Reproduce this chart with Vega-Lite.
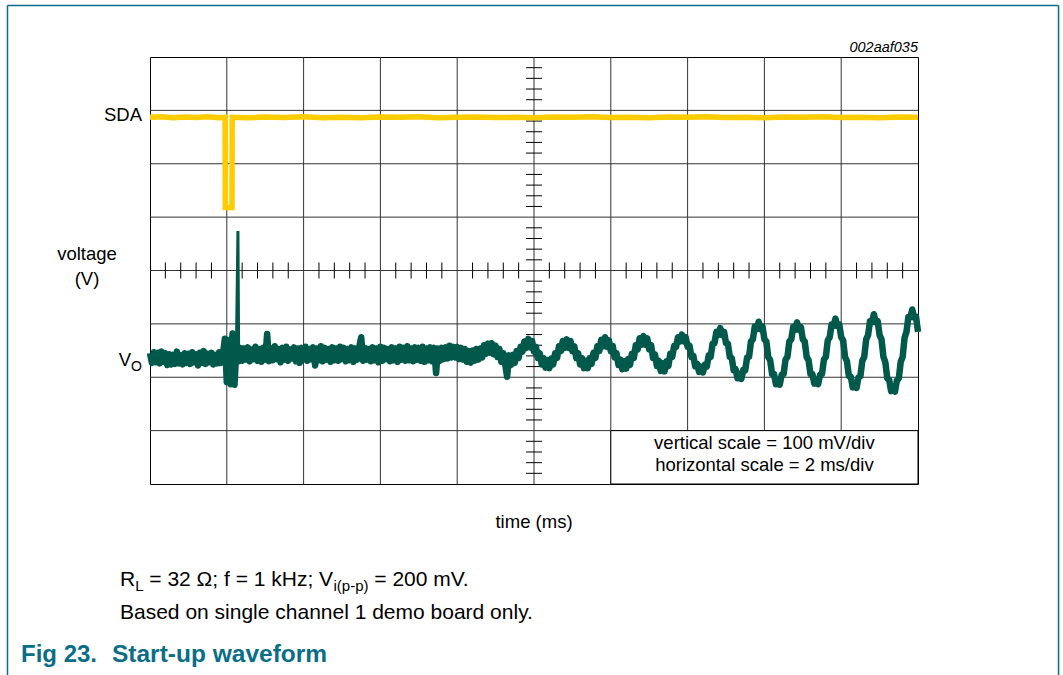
{
  "$schema": "https://vega.github.io/schema/vega-lite/v6.json",
  "width": 768,
  "height": 427,
  "autosize": {"type": "none"},
  "padding": {"left": 150, "top": 57, "right": 145, "bottom": 191},
  "background": "white",
  "config": {
    "view": {"stroke": "#000", "strokeWidth": 1},
    "text": {"font": "Liberation Sans, Arial, Helvetica, sans-serif"}
  },
  "datasets": {
    "gx": [{"t": 2}, {"t": 4}, {"t": 6}, {"t": 8}, {"t": 10}, {"t": 12}, {"t": 14}, {"t": 16}, {"t": 18}],
    "gy": [{"d": 1}, {"d": 2}, {"d": 3}, {"d": 4}, {"d": 5}, {"d": 6}, {"d": 7}],
    "hticks": [{"t":0.4},{"t":0.8},{"t":1.2},{"t":1.6},{"t":2.4},{"t":2.8},{"t":3.2},{"t":3.6},{"t":4.4},{"t":4.8},{"t":5.2},{"t":5.6},{"t":6.4},{"t":6.8},{"t":7.2},{"t":7.6},{"t":8.4},{"t":8.8},{"t":9.2},{"t":9.6},{"t":10.4},{"t":10.8},{"t":11.2},{"t":11.6},{"t":12.4},{"t":12.8},{"t":13.2},{"t":13.6},{"t":14.4},{"t":14.8},{"t":15.2},{"t":15.6},{"t":16.4},{"t":16.8},{"t":17.2},{"t":17.6},{"t":18.4},{"t":18.8},{"t":19.2},{"t":19.6}],
    "vticks": [{"d":0.2},{"d":0.4},{"d":0.6},{"d":0.8},{"d":1.2},{"d":1.4},{"d":1.6},{"d":1.8},{"d":2.2},{"d":2.4},{"d":2.6},{"d":2.8},{"d":3.2},{"d":3.4},{"d":3.6},{"d":3.8},{"d":4.2},{"d":4.4},{"d":4.6},{"d":4.8},{"d":5.2},{"d":5.4},{"d":5.6},{"d":5.8},{"d":6.2},{"d":6.4},{"d":6.6},{"d":6.8},{"d":7.2},{"d":7.4},{"d":7.6},{"d":7.8}],
    "sda": [
      {"t":0,"v":6.87},{"t":0.3,"v":6.88},{"t":0.6,"v":6.86},{"t":0.9,"v":6.875},{"t":1.2,"v":6.865},{"t":1.5,"v":6.88},{"t":1.8,"v":6.86},{"t":1.955,"v":6.87},{"t":1.96,"v":5.18},{"t":2.135,"v":5.18},{"t":2.14,"v":6.87},{"t":2.5,"v":6.86},{"t":3,"v":6.875},{"t":3.5,"v":6.865},{"t":4,"v":6.88},{"t":4.5,"v":6.86},{"t":5,"v":6.87},{"t":5.5,"v":6.86},{"t":6,"v":6.875},{"t":6.5,"v":6.87},{"t":7,"v":6.88},{"t":7.5,"v":6.86},{"t":8,"v":6.87},{"t":8.5,"v":6.875},{"t":9,"v":6.865},{"t":9.5,"v":6.87},{"t":10,"v":6.86},{"t":10.5,"v":6.875},{"t":11,"v":6.87},{"t":11.5,"v":6.88},{"t":12,"v":6.865},{"t":12.5,"v":6.87},{"t":13,"v":6.86},{"t":13.5,"v":6.875},{"t":14,"v":6.87},{"t":14.5,"v":6.88},{"t":15,"v":6.865},{"t":15.5,"v":6.87},{"t":16,"v":6.86},{"t":16.5,"v":6.875},{"t":17,"v":6.87},{"t":17.5,"v":6.88},{"t":18,"v":6.865},{"t":18.5,"v":6.87},{"t":19,"v":6.86},{"t":19.5,"v":6.875},{"t":20,"v":6.87}
    ],
    "vo": [
      {"t":0,"v":2.45},{"t":0.05,"v":2.27},{"t":0.1,"v":2.47},{"t":0.15,"v":2.28},{"t":0.2,"v":2.46},{"t":0.25,"v":2.26},{"t":0.3,"v":2.48},{"t":0.35,"v":2.29},{"t":0.4,"v":2.45},{"t":0.45,"v":2.23},{"t":0.5,"v":2.43},{"t":0.55,"v":2.24},{"t":0.6,"v":2.42},{"t":0.65,"v":2.25},{"t":0.7,"v":2.48},{"t":0.75,"v":2.26},{"t":0.8,"v":2.41},{"t":0.85,"v":2.24},{"t":0.9,"v":2.45},{"t":0.95,"v":2.27},
      {"t":1,"v":2.44},{"t":1.05,"v":2.25},{"t":1.1,"v":2.47},{"t":1.15,"v":2.28},{"t":1.2,"v":2.43},{"t":1.25,"v":2.22},{"t":1.3,"v":2.46},{"t":1.35,"v":2.27},{"t":1.4,"v":2.49},{"t":1.45,"v":2.25},{"t":1.5,"v":2.44},{"t":1.55,"v":2.28},{"t":1.6,"v":2.46},{"t":1.65,"v":2.24},{"t":1.7,"v":2.42},{"t":1.75,"v":2.26},{"t":1.8,"v":2.47},{"t":1.85,"v":2.27},{"t":1.9,"v":2.44},{"t":1.95,"v":2.72},
      {"t":2,"v":1.91},{"t":2.05,"v":2.7},{"t":2.1,"v":1.87},{"t":2.15,"v":2.82},{"t":2.2,"v":1.86},{"t":2.25,"v":2.55},{"t":2.29,"v":4.74},{"t":2.31,"v":2.3},{"t":2.35,"v":2.55},{"t":2.4,"v":2.31},{"t":2.45,"v":2.54},{"t":2.5,"v":2.33},{"t":2.55,"v":2.56},{"t":2.6,"v":2.3},{"t":2.65,"v":2.52},{"t":2.7,"v":2.34},{"t":2.75,"v":2.57},{"t":2.8,"v":2.31},{"t":2.85,"v":2.53},{"t":2.9,"v":2.29},{"t":2.95,"v":2.55},
      {"t":3,"v":2.33},{"t":3.05,"v":2.81},{"t":3.1,"v":2.3},{"t":3.15,"v":2.54},{"t":3.2,"v":2.32},{"t":3.25,"v":2.58},{"t":3.3,"v":2.34},{"t":3.35,"v":2.53},{"t":3.4,"v":2.28},{"t":3.45,"v":2.55},{"t":3.5,"v":2.33},{"t":3.55,"v":2.57},{"t":3.6,"v":2.31},{"t":3.65,"v":2.52},{"t":3.7,"v":2.35},{"t":3.75,"v":2.56},{"t":3.8,"v":2.3},{"t":3.85,"v":2.54},{"t":3.9,"v":2.27},{"t":3.95,"v":2.55},
      {"t":4,"v":2.33},{"t":4.05,"v":2.57},{"t":4.1,"v":2.31},{"t":4.15,"v":2.53},{"t":4.2,"v":2.34},{"t":4.25,"v":2.56},{"t":4.3,"v":2.22},{"t":4.35,"v":2.54},{"t":4.4,"v":2.32},{"t":4.45,"v":2.58},{"t":4.5,"v":2.3},{"t":4.55,"v":2.55},{"t":4.6,"v":2.33},{"t":4.65,"v":2.53},{"t":4.7,"v":2.29},{"t":4.75,"v":2.56},{"t":4.8,"v":2.32},{"t":4.85,"v":2.54},{"t":4.9,"v":2.31},{"t":4.95,"v":2.57},
      {"t":5,"v":2.34},{"t":5.05,"v":2.55},{"t":5.1,"v":2.3},{"t":5.15,"v":2.53},{"t":5.2,"v":2.32},{"t":5.25,"v":2.56},{"t":5.3,"v":2.29},{"t":5.35,"v":2.54},{"t":5.4,"v":2.33},{"t":5.45,"v":2.57},{"t":5.5,"v":2.75},{"t":5.55,"v":2.31},{"t":5.6,"v":2.55},{"t":5.65,"v":2.33},{"t":5.7,"v":2.53},{"t":5.75,"v":2.3},{"t":5.8,"v":2.56},{"t":5.85,"v":2.32},{"t":5.9,"v":2.54},{"t":5.95,"v":2.28},
      {"t":6,"v":2.57},{"t":6.05,"v":2.31},{"t":6.1,"v":2.55},{"t":6.15,"v":2.34},{"t":6.2,"v":2.53},{"t":6.25,"v":2.3},{"t":6.3,"v":2.56},{"t":6.35,"v":2.32},{"t":6.4,"v":2.54},{"t":6.45,"v":2.29},{"t":6.5,"v":2.57},{"t":6.55,"v":2.33},{"t":6.6,"v":2.55},{"t":6.65,"v":2.31},{"t":6.7,"v":2.58},{"t":6.75,"v":2.32},{"t":6.8,"v":2.54},{"t":6.85,"v":2.3},{"t":6.9,"v":2.56},{"t":6.95,"v":2.33},
      {"t":7,"v":2.55},{"t":7.05,"v":2.31},{"t":7.1,"v":2.57},{"t":7.15,"v":2.29},{"t":7.2,"v":2.54},{"t":7.25,"v":2.32},{"t":7.3,"v":2.56},{"t":7.35,"v":2.3},{"t":7.4,"v":2.55},{"t":7.45,"v":2.08},{"t":7.5,"v":2.54},{"t":7.55,"v":2.31},{"t":7.6,"v":2.55},{"t":7.65,"v":2.34},{"t":7.7,"v":2.56},{"t":7.75,"v":2.35},{"t":7.8,"v":2.59},{"t":7.85,"v":2.37},{"t":7.9,"v":2.57},{"t":7.95,"v":2.37},
      {"t":8,"v":2.57},{"t":8.05,"v":2.34},{"t":8.1,"v":2.55},{"t":8.15,"v":2.33},{"t":8.2,"v":2.53},{"t":8.25,"v":2.29},{"t":8.3,"v":2.49},{"t":8.35,"v":2.27},{"t":8.4,"v":2.5},{"t":8.45,"v":2.31},{"t":8.5,"v":2.53},{"t":8.55,"v":2.33},{"t":8.6,"v":2.54},{"t":8.65,"v":2.37},{"t":8.7,"v":2.6},{"t":8.75,"v":2.44},{"t":8.8,"v":2.63},{"t":8.85,"v":2.46},{"t":8.9,"v":2.64},{"t":8.95,"v":2.43},
      {"t":9,"v":2.59},{"t":9.05,"v":2.38},{"t":9.1,"v":2.53},{"t":9.15,"v":2.29},{"t":9.2,"v":2.45},{"t":9.25,"v":2.24},{"t":9.3,"v":2.01},{"t":9.35,"v":2.41},{"t":9.4,"v":2.23},{"t":9.45,"v":2.42},{"t":9.5,"v":2.27},{"t":9.55,"v":2.49},{"t":9.6,"v":2.36},{"t":9.65,"v":2.57},{"t":9.7,"v":2.48},{"t":9.75,"v":2.67},{"t":9.8,"v":2.55},{"t":9.85,"v":2.72},{"t":9.9,"v":2.56},{"t":9.95,"v":2.68},
      {"t":10,"v":2.48},{"t":10.05,"v":2.57},{"t":10.1,"v":2.36},{"t":10.15,"v":2.45},{"t":10.2,"v":2.24},{"t":10.25,"v":2.36},{"t":10.3,"v":2.18},{"t":10.35,"v":2.32},{"t":10.4,"v":2.17},{"t":10.45,"v":2.35},{"t":10.5,"v":2.24},{"t":10.55,"v":2.45},{"t":10.6,"v":2.36},{"t":10.65,"v":2.58},{"t":10.7,"v":2.49},{"t":10.75,"v":2.68},{"t":10.8,"v":2.55},{"t":10.85,"v":2.71},{"t":10.9,"v":2.55},{"t":10.95,"v":2.68},
      {"t":11,"v":2.49},{"t":11.05,"v":2.58},{"t":11.1,"v":2.36},{"t":11.15,"v":2.45},{"t":11.2,"v":2.24},{"t":11.25,"v":2.36},{"t":11.3,"v":2.17},{"t":11.35,"v":2.31},{"t":11.4,"v":2.17},{"t":11.45,"v":2.36},{"t":11.5,"v":2.25},{"t":11.55,"v":2.46},{"t":11.6,"v":2.36},{"t":11.65,"v":2.58},{"t":11.7,"v":2.49},{"t":11.75,"v":2.7},{"t":11.8,"v":2.58},{"t":11.85,"v":2.75},{"t":11.9,"v":2.57},{"t":11.95,"v":2.69},
      {"t":12,"v":2.49},{"t":12.05,"v":2.59},{"t":12.1,"v":2.37},{"t":12.15,"v":2.45},{"t":12.2,"v":2.23},{"t":12.25,"v":2.33},{"t":12.3,"v":2.15},{"t":12.35,"v":2.3},{"t":12.4,"v":2.16},{"t":12.45,"v":2.34},{"t":12.5,"v":2.23},{"t":12.55,"v":2.44},{"t":12.6,"v":2.36},{"t":12.65,"v":2.6},{"t":12.7,"v":2.52},{"t":12.75,"v":2.73},{"t":12.8,"v":2.61},{"t":12.85,"v":2.77},{"t":12.9,"v":2.61},{"t":12.95,"v":2.73},
      {"t":13,"v":2.52},{"t":13.05,"v":2.6},{"t":13.1,"v":2.36},{"t":13.15,"v":2.43},{"t":13.2,"v":2.21},{"t":13.25,"v":2.31},{"t":13.3,"v":2.12},{"t":13.35,"v":2.26},{"t":13.4,"v":2.11},{"t":13.45,"v":2.3},{"t":13.5,"v":2.21},{"t":13.55,"v":2.44},{"t":13.6,"v":2.38},{"t":13.65,"v":2.59},{"t":13.7,"v":2.57},{"t":13.75,"v":2.75},{"t":13.8,"v":2.67},{"t":13.85,"v":2.8},{"t":13.9,"v":2.67},{"t":13.95,"v":2.75},
      {"t":14,"v":2.57},{"t":14.05,"v":2.59},{"t":14.1,"v":2.38},{"t":14.15,"v":2.4},{"t":14.2,"v":2.2},{"t":14.25,"v":2.25},{"t":14.3,"v":2.1},{"t":14.35,"v":2.2},{"t":14.4,"v":2.09},{"t":14.45,"v":2.24},{"t":14.5,"v":2.2},{"t":14.55,"v":2.41},{"t":14.6,"v":2.38},{"t":14.65,"v":2.63},{"t":14.7,"v":2.64},{"t":14.75,"v":2.85},{"t":14.8,"v":2.79},{"t":14.85,"v":2.92},{"t":14.9,"v":2.79},{"t":14.95,"v":2.85},
      {"t":15,"v":2.64},{"t":15.05,"v":2.63},{"t":15.1,"v":2.38},{"t":15.15,"v":2.36},{"t":15.2,"v":2.13},{"t":15.25,"v":2.15},{"t":15.3,"v":1.98},{"t":15.35,"v":2.07},{"t":15.4,"v":1.97},{"t":15.45,"v":2.14},{"t":15.5,"v":2.13},{"t":15.55,"v":2.37},{"t":15.6,"v":2.38},{"t":15.65,"v":2.67},{"t":15.7,"v":2.71},{"t":15.75,"v":2.95},{"t":15.8,"v":2.9},{"t":15.85,"v":3.04},{"t":15.9,"v":2.9},{"t":15.95,"v":2.95},
      {"t":16,"v":2.71},{"t":16.05,"v":2.67},{"t":16.1,"v":2.38},{"t":16.15,"v":2.32},{"t":16.2,"v":2.06},{"t":16.25,"v":2.06},{"t":16.3,"v":1.87},{"t":16.35,"v":1.95},{"t":16.4,"v":1.86},{"t":16.45,"v":2.05},{"t":16.5,"v":2.06},{"t":16.55,"v":2.33},{"t":16.6,"v":2.38},{"t":16.65,"v":2.67},{"t":16.7,"v":2.71},{"t":16.75,"v":2.94},{"t":16.8,"v":2.89},{"t":16.85,"v":3.03},{"t":16.9,"v":2.89},{"t":16.95,"v":2.94},
      {"t":17,"v":2.71},{"t":17.05,"v":2.67},{"t":17.1,"v":2.38},{"t":17.15,"v":2.32},{"t":17.2,"v":2.06},{"t":17.25,"v":2.06},{"t":17.3,"v":1.88},{"t":17.35,"v":1.96},{"t":17.4,"v":1.87},{"t":17.45,"v":2.05},{"t":17.5,"v":2.06},{"t":17.55,"v":2.33},{"t":17.6,"v":2.38},{"t":17.65,"v":2.69},{"t":17.7,"v":2.75},{"t":17.75,"v":2.99},{"t":17.8,"v":2.96},{"t":17.85,"v":3.1},{"t":17.9,"v":2.96},{"t":17.95,"v":2.99},
      {"t":18,"v":2.75},{"t":18.05,"v":2.69},{"t":18.1,"v":2.38},{"t":18.15,"v":2.3},{"t":18.2,"v":2.02},{"t":18.25,"v":2.01},{"t":18.3,"v":1.81},{"t":18.35,"v":1.89},{"t":18.4,"v":1.8},{"t":18.45,"v":2.0},{"t":18.5,"v":2.02},{"t":18.55,"v":2.31},{"t":18.6,"v":2.38},{"t":18.65,"v":2.71},{"t":18.7,"v":2.79},{"t":18.75,"v":3.05},{"t":18.8,"v":3.03},{"t":18.85,"v":3.18},{"t":18.9,"v":3.03},{"t":18.95,"v":3.05},
      {"t":19,"v":2.79},{"t":19.05,"v":2.71},{"t":19.1,"v":2.38},{"t":19.15,"v":2.28},{"t":19.2,"v":1.98},{"t":19.25,"v":1.95},{"t":19.3,"v":1.74},{"t":19.35,"v":1.82},{"t":19.4,"v":1.73},{"t":19.45,"v":1.94},{"t":19.5,"v":1.98},{"t":19.55,"v":2.29},{"t":19.6,"v":2.38},{"t":19.65,"v":2.74},{"t":19.7,"v":2.85},{"t":19.75,"v":3.13},{"t":19.8,"v":3.12},{"t":19.85,"v":3.27},{"t":19.9,"v":3.12},{"t":19.95,"v":3.13},
      {"t":20,"v":2.85}
    ]
  },
  "layer": [
    {
      "data": {"name": "gx"},
      "mark": {"type": "rule", "color": "#333", "strokeWidth": 1},
      "encoding": {
        "x": {"field": "t", "type": "quantitative", "scale": {"domain": [0, 20], "nice": false, "zero": false}, "axis": null}
      }
    },
    {
      "data": {"name": "gy"},
      "mark": {"type": "rule", "color": "#333", "strokeWidth": 1},
      "encoding": {
        "y": {"field": "d", "type": "quantitative", "scale": {"domain": [0, 8], "nice": false, "zero": false}, "axis": null}
      }
    },
    {
      "data": {"values": [{"box": "scale note"}]},
      "mark": {"type": "rect", "fill": "white", "stroke": "#000", "strokeWidth": 1},
      "encoding": {
        "x": {"datum": 12, "type": "quantitative", "axis": null},
        "x2": {"datum": 20},
        "y": {"datum": 0, "type": "quantitative", "axis": null},
        "y2": {"datum": 1}
      }
    },
    {
      "data": {"name": "hticks"},
      "mark": {"type": "tick", "orient": "vertical", "size": 16, "thickness": 1, "color": "#000", "opacity": 1},
      "encoding": {
        "x": {"field": "t", "type": "quantitative", "axis": null},
        "y": {"datum": 4, "type": "quantitative", "axis": null}
      }
    },
    {
      "data": {"name": "vticks"},
      "mark": {"type": "tick", "orient": "horizontal", "size": 16, "thickness": 1, "color": "#000", "opacity": 1},
      "encoding": {
        "y": {"field": "d", "type": "quantitative", "axis": null},
        "x": {"datum": 10, "type": "quantitative", "axis": null}
      }
    },
    {
      "data": {"name": "sda"},
      "mark": {"type": "line", "color": "#FFCC00", "strokeWidth": 5.5, "strokeJoin": "miter"},
      "encoding": {
        "x": {"field": "t", "type": "quantitative", "axis": null},
        "y": {"field": "v", "type": "quantitative", "axis": null}
      }
    },
    {
      "data": {"name": "vo"},
      "transform": [{"filter": "datum.t != 2.29"}],
      "mark": {"type": "line", "color": "#00594A", "strokeWidth": 6.5, "strokeJoin": "round"},
      "encoding": {
        "x": {"field": "t", "type": "quantitative", "axis": null},
        "y": {"field": "v", "type": "quantitative", "axis": null}
      }
    },
    {
      "data": {"name": "vo"},
      "transform": [{"filter": "datum.t >= 2.25 && datum.t <= 2.31"}],
      "mark": {"type": "line", "color": "#00594A", "strokeWidth": 3, "strokeJoin": "miter"},
      "encoding": {
        "x": {"field": "t", "type": "quantitative", "axis": null},
        "y": {"field": "v", "type": "quantitative", "axis": null}
      }
    },
    {
      "data": {"values": [{"label": "002aaf035"}]},
      "mark": {"type": "text", "align": "right", "baseline": "alphabetic", "fontSize": 14.5, "fontStyle": "italic", "color": "#000"},
      "encoding": {"x": {"datum": 20, "type": "quantitative"}, "y": {"datum": 8.103, "type": "quantitative"}, "text": {"field": "label"}}
    },
    {
      "data": {"values": [{"label": "SDA"}]},
      "mark": {"type": "text", "align": "right", "baseline": "middle", "fontSize": 18.5, "color": "#000"},
      "encoding": {"x": {"datum": -0.208, "type": "quantitative"}, "y": {"datum": 6.913, "type": "quantitative"}, "text": {"field": "label"}}
    },
    {
      "data": {"values": [{"label": "voltage"}]},
      "mark": {"type": "text", "align": "center", "baseline": "middle", "fontSize": 18.5, "color": "#000"},
      "encoding": {"x": {"datum": -1.641, "type": "quantitative"}, "y": {"datum": 4.309, "type": "quantitative"}, "text": {"field": "label"}}
    },
    {
      "data": {"values": [{"label": "(V)"}]},
      "mark": {"type": "text", "align": "center", "baseline": "middle", "fontSize": 18.5, "color": "#000"},
      "encoding": {"x": {"datum": -1.641, "type": "quantitative"}, "y": {"datum": 3.841, "type": "quantitative"}, "text": {"field": "label"}}
    },
    {
      "data": {"values": [{"label": "V"}]},
      "mark": {"type": "text", "align": "right", "baseline": "middle", "fontSize": 18.5, "color": "#000"},
      "encoding": {"x": {"datum": -0.495, "type": "quantitative"}, "y": {"datum": 2.323, "type": "quantitative"}, "text": {"field": "label"}}
    },
    {
      "data": {"values": [{"label": "O"}]},
      "mark": {"type": "text", "align": "left", "baseline": "middle", "fontSize": 14, "color": "#000"},
      "encoding": {"x": {"datum": -0.495, "type": "quantitative"}, "y": {"datum": 2.19, "type": "quantitative"}, "text": {"field": "label"}}
    },
    {
      "data": {"values": [{"label": "vertical scale = 100 mV/div"}]},
      "mark": {"type": "text", "align": "center", "baseline": "middle", "fontSize": 18.5, "color": "#000"},
      "encoding": {"x": {"datum": 16.0, "type": "quantitative"}, "y": {"datum": 0.768, "type": "quantitative"}, "text": {"field": "label"}}
    },
    {
      "data": {"values": [{"label": "horizontal scale = 2 ms/div"}]},
      "mark": {"type": "text", "align": "center", "baseline": "middle", "fontSize": 18.5, "color": "#000"},
      "encoding": {"x": {"datum": 16.0, "type": "quantitative"}, "y": {"datum": 0.356, "type": "quantitative"}, "text": {"field": "label"}}
    },
    {
      "data": {"values": [{"label": "time (ms)"}]},
      "mark": {"type": "text", "align": "center", "baseline": "middle", "fontSize": 18.5, "color": "#000"},
      "encoding": {"x": {"datum": 10, "type": "quantitative"}, "y": {"datum": -0.712, "type": "quantitative"}, "text": {"field": "label"}}
    },
    {
      "data": {"values": [{"label": "R"}]},
      "mark": {"type": "text", "align": "left", "baseline": "middle", "fontSize": 21, "color": "#000"},
      "encoding": {"x": {"datum": -0.781, "type": "quantitative"}, "y": {"datum": -1.799, "type": "quantitative"}, "text": {"field": "label"}}
    },
    {
      "data": {"values": [{"label": "L"}]},
      "mark": {"type": "text", "align": "left", "baseline": "middle", "fontSize": 15, "color": "#000"},
      "encoding": {"x": {"datum": -0.385, "type": "quantitative"}, "y": {"datum": -1.911, "type": "quantitative"}, "text": {"field": "label"}}
    },
    {
      "data": {"values": [{"label": "= 32 Ω; f = 1 kHz; V"}]},
      "mark": {"type": "text", "align": "left", "baseline": "middle", "fontSize": 21, "color": "#000"},
      "encoding": {"x": {"datum": -0.018, "type": "quantitative"}, "y": {"datum": -1.799, "type": "quantitative"}, "text": {"field": "label"}}
    },
    {
      "data": {"values": [{"label": "i(p-p)"}]},
      "mark": {"type": "text", "align": "left", "baseline": "middle", "fontSize": 15, "color": "#000"},
      "encoding": {"x": {"datum": 4.779, "type": "quantitative"}, "y": {"datum": -1.911, "type": "quantitative"}, "text": {"field": "label"}}
    },
    {
      "data": {"values": [{"label": "= 200 mV."}]},
      "mark": {"type": "text", "align": "left", "baseline": "middle", "fontSize": 21, "color": "#000"},
      "encoding": {"x": {"datum": 5.841, "type": "quantitative"}, "y": {"datum": -1.799, "type": "quantitative"}, "text": {"field": "label"}}
    },
    {
      "data": {"values": [{"label": "Based on single channel 1 demo board only."}]},
      "mark": {"type": "text", "align": "left", "baseline": "middle", "fontSize": 21, "color": "#000"},
      "encoding": {"x": {"datum": -0.781, "type": "quantitative"}, "y": {"datum": -2.417, "type": "quantitative"}, "text": {"field": "label"}}
    },
    {
      "data": {"values": [{"label": "Fig 23."}]},
      "mark": {"type": "text", "align": "left", "baseline": "middle", "fontSize": 24, "fontWeight": "bold", "color": "#0A6E87"},
      "encoding": {"x": {"datum": -3.359, "type": "quantitative"}, "y": {"datum": -3.204, "type": "quantitative"}, "text": {"field": "label"}}
    },
    {
      "data": {"values": [{"label": "Start-up waveform"}]},
      "mark": {"type": "text", "align": "left", "baseline": "middle", "fontSize": 24.5, "fontWeight": "bold", "color": "#0A6E87"},
      "encoding": {"x": {"datum": -0.99, "type": "quantitative"}, "y": {"datum": -3.204, "type": "quantitative"}, "text": {"field": "label"}}
    },
    {
      "data": {"values": [{"edge": "left"}]},
      "mark": {"type": "rule", "color": "#0A6E87", "strokeWidth": 1.5},
      "encoding": {"x": {"datum": -3.711, "type": "quantitative"}, "y": {"datum": 8.965, "type": "quantitative"}, "y2": {"datum": -3.7}}
    },
    {
      "data": {"values": [{"edge": "right"}]},
      "mark": {"type": "rule", "color": "#0A6E87", "strokeWidth": 1.5},
      "encoding": {"x": {"datum": 23.66, "type": "quantitative"}, "y": {"datum": 8.965, "type": "quantitative"}, "y2": {"datum": -3.7}}
    },
    {
      "data": {"values": [{"edge": "top"}]},
      "mark": {"type": "rule", "color": "#0A6E87", "strokeWidth": 1.5},
      "encoding": {"x": {"datum": -3.711, "type": "quantitative"}, "x2": {"datum": 23.66}, "y": {"datum": 8.965, "type": "quantitative"}}
    }
  ]
}
